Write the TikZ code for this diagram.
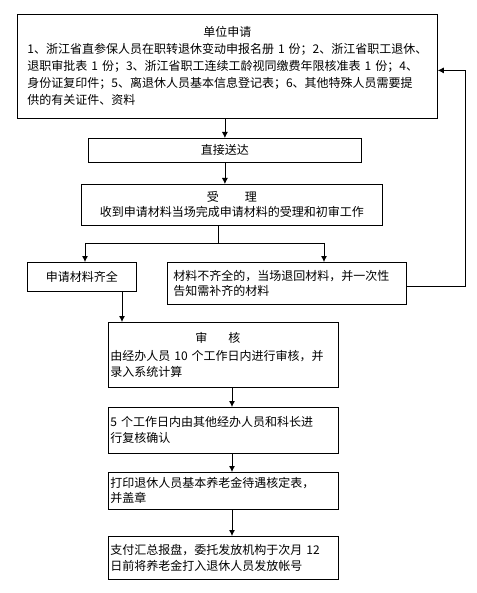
\documentclass[tikz,border=0pt]{standalone}
\usepackage{fontspec}
\setmainfont{Noto Sans CJK SC}
\usetikzlibrary{arrows.meta}
\begin{document}
\begin{tikzpicture}[x=1pt,y=-1pt,
 bx/.style={draw, line width=0.8pt, anchor=north west, inner ysep=0pt, font=\fontsize{12}{16}\selectfont},
 arr/.style={draw, line width=0.8pt, -{Latex[length=6pt,width=6pt]}},
 ln/.style={draw, line width=0.8pt}]
\useasboundingbox[fill=white] (0,0) rectangle (476,593);
\node[bx, minimum width=420pt, minimum height=104pt, inner xsep=10pt, text width=400pt, align=left, font=\fontsize{12}{17}\selectfont] (tb) at (17,14) {\makebox[\hsize]{单位申请}\\1、浙江省直参保人员在职转退休变动申报名册 1 份；2、浙江省职工退休、\\退职审批表 1 份；3、浙江省职工连续工龄视同缴费年限核准表 1 份；4、\\身份证复印件；5、离退休人员基本信息登记表；6、其他特殊人员需要提\\供的有关证件、资料\par\vspace*{14pt}};
\node[bx, minimum width=273pt, minimum height=24pt] (zd) at (88,138) {直接送达};
\node[bx, minimum width=301pt, minimum height=41pt, align=center, font=\fontsize{12}{15}\selectfont] (sl) at (81,184) {受\hspace{26pt}理\\收到申请材料当场完成申请材料的受理和初审工作};
\node[bx, minimum width=109pt, minimum height=29pt] (lb) at (27,262) {申请材料齐全};
\node[bx, minimum width=239pt, minimum height=42pt, inner xsep=6pt, text width=227pt, align=left, font=\fontsize{12}{14.5}\selectfont] (rb) at (167,262) {材料不齐全的，当场退回材料，并一次性\\告知需补齐的材料};
\node[bx, minimum width=230pt, minimum height=65pt, inner xsep=2pt, text width=226pt, align=left] (sh) at (108,322) {\makebox[\hsize]{审\hspace{21pt}核\hspace{11pt}}\\[2pt]由经办人员 10 个工作日内进行审核，并\\录入系统计算};
\node[bx, minimum width=230pt, minimum height=46pt, inner xsep=2pt, text width=226pt, align=left] (fh) at (108,407) {5 个工作日内由其他经办人员和科长进\\行复核确认};
\node[bx, minimum width=230pt, minimum height=37pt, inner xsep=2pt, text width=226pt, align=left, font=\fontsize{12}{15}\selectfont] (dy) at (108,472) {打印退休人员基本养老金待遇核定表，\\并盖章};
\node[bx, minimum width=230pt, minimum height=43pt, inner xsep=2pt, text width=226pt, align=left] (zf) at (108,536) {支付汇总报盘，委托发放机构于次月 12\\日前将养老金打入退休人员发放帐号};
\draw[arr] (zd.north |- tb.south) -- (zd.north);
\draw[arr] (zd.south) -- (zd.south |- sl.north);
\coordinate (j) at (218,243);
\coordinate (jl) at (85,243);
\coordinate (jr) at (324,243);
\draw[ln] (j |- sl.south) -- (j);
\draw[ln] (jl) -- (jr);
\draw[arr] (jl) -- (jl |- lb.north);
\draw[arr] (jr) -- (jr |- rb.north);
\draw[arr] ([yshift=-3pt]rb.east) -- ++(59,0) |- ([yshift=-4pt]tb.east);
\coordinate (k) at (122,0);
\draw[arr] (k |- lb.south) -- (k |- sh.north);
\coordinate (a) at (232,0);
\draw[arr] (a |- sh.south) -- (a |- fh.north);
\draw[arr] (a |- fh.south) -- (a |- dy.north);
\draw[arr] (a |- dy.south) -- (a |- zf.north);
\end{tikzpicture}
\end{document}
